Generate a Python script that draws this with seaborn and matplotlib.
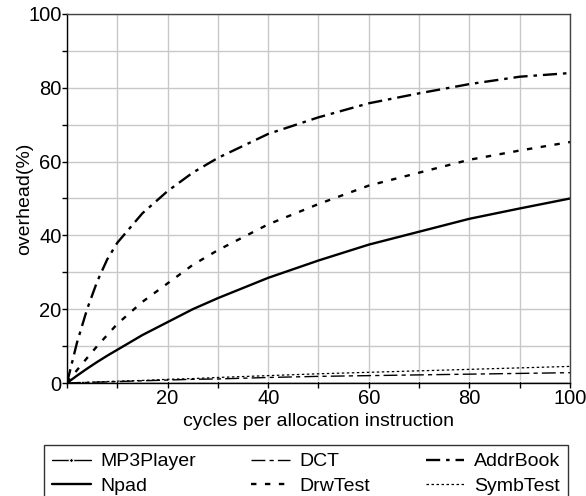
import numpy as np
import pandas as pd
import matplotlib
matplotlib.use("Agg")
import matplotlib.pyplot as plt
from matplotlib.ticker import MultipleLocator
import seaborn as sns

# Data
x_cycles = [0, 2, 4, 6, 8, 10, 15, 20, 25, 30, 40, 50, 60, 70, 80, 90, 100]
mp3player = [0, 0, 0, 0, 0, 0, 0, 0, 0, 0, 0, 0, 0, 0, 0, 0, 0]
npad = [0, 2.0, 3.9, 5.7, 7.4, 9.0, 13.0, 16.5, 20.0, 23.0, 28.5, 33.2, 37.5, 41.0, 44.5, 47.3, 50.0]
dct = [0, 0.1, 0.15, 0.25, 0.3, 0.4, 0.6, 0.8, 1.0, 1.1, 1.5, 1.8, 2.0, 2.2, 2.4, 2.6, 2.8]
drwtest = [0, 3.5, 6.8, 10.0, 13.0, 16.0, 22.0, 27.0, 32.0, 36.0, 43.0, 48.5, 53.5, 57.0, 60.5, 63.0, 65.3]
addrbook = [0, 11.0, 20.0, 27.5, 33.5, 38.0, 46.0, 52.0, 57.0, 61.0, 67.5, 72.0, 75.8, 78.5, 81.0, 83.0, 84.0]
symbtest = [0, 0.1, 0.2, 0.3, 0.4, 0.5, 0.7, 1.0, 1.2, 1.5, 2.0, 2.5, 2.9, 3.3, 3.7, 4.1, 4.5]

series_names = ["MP3Player", "Npad", "DCT", "DrwTest", "AddrBook", "SymbTest"]
series_values = [mp3player, npad, dct, drwtest, addrbook, symbtest]

df = pd.DataFrame({"x": x_cycles})
for name, vals in zip(series_names, series_values):
    df[name] = vals
long_df = df.melt(id_vars="x", var_name="benchmark", value_name="overhead")

sns.set_style("whitegrid")
plt.rcParams["font.family"] = ["Liberation Sans", "DejaVu Sans"]
plt.rcParams["text.color"] = "black"
plt.rcParams["axes.labelcolor"] = "black"
plt.rcParams["xtick.color"] = "black"
plt.rcParams["ytick.color"] = "black"

# markers every 10 cycles on the MP3Player line
mp3_marks = [i for i, v in enumerate(x_cycles) if v % 10 == 0]

styles = {
    "MP3Player": dict(ls="-", lw=1.0, marker="D", ms=2.5, markevery=mp3_marks),
    "Npad": dict(ls="-", lw=1.7),
    "DCT": dict(ls=(0, (10, 3, 3, 3)), lw=1.0),
    "DrwTest": dict(ls=(0, (2.3, 3.6)), lw=1.7),
    "AddrBook": dict(ls=(0, (6, 2.5, 1.5, 2.5)), lw=1.7),
    "SymbTest": dict(ls=(0, (2, 2)), lw=0.9),
}

fig = plt.figure(figsize=(5.86, 4.96), dpi=100)
ax = fig.add_axes([0.1143, 0.2278, 0.8584, 0.744])

for name in series_names:
    sub = long_df[long_df["benchmark"] == name]
    st = styles[name]
    sns.lineplot(data=sub, x="x", y="overhead", ax=ax, color="black",
                 linestyle=st["ls"], linewidth=st["lw"],
                 marker=st.get("marker"), markersize=st.get("ms", 0),
                 markevery=st.get("markevery"), label=name)

ax.set_xlim(0, 100)
ax.set_ylim(0, 100)
ax.xaxis.set_minor_locator(MultipleLocator(10))
ax.yaxis.set_major_locator(MultipleLocator(20))
ax.yaxis.set_minor_locator(MultipleLocator(10))
ax.set_xticks([20, 40, 60, 80, 100])
ax.set_xticklabels(["20", "40", "60", "80", "100"])
ax.grid(True, which="both", color="#c8c8c8", lw=1.0)
ax.set_axisbelow(True)
for side in ["left", "bottom", "top", "right"]:
    ax.spines[side].set_visible(True)
    ax.spines[side].set_color("black")
    ax.spines[side].set_linewidth(1.0)
ax.spines["top"].set_color("#444444")
ax.spines["right"].set_color("#444444")
ax.tick_params(axis="both", which="both", direction="out", length=3.5, width=1,
               color="black", labelsize=14.5, pad=0.5, bottom=True, left=True)
ax.set_xlabel("cycles per allocation instruction", fontsize=14, labelpad=4)
ax.set_ylabel("overhead(%)", fontsize=14)
ax.yaxis.set_label_coords(-0.068, 0.5)

leg = ax.legend(loc="upper left", bbox_to_anchor=(-0.0457, -0.168, 1.042, 0.0),
                mode="expand", ncol=3, frameon=True, fancybox=False,
                edgecolor="black", fontsize=14, handlelength=2.0,
                handletextpad=0.5, borderpad=0.4, labelspacing=0.35,
                borderaxespad=0.0, columnspacing=1.0)
leg.get_frame().set_linewidth(1.0)

fig.savefig("out.png", dpi=100)
